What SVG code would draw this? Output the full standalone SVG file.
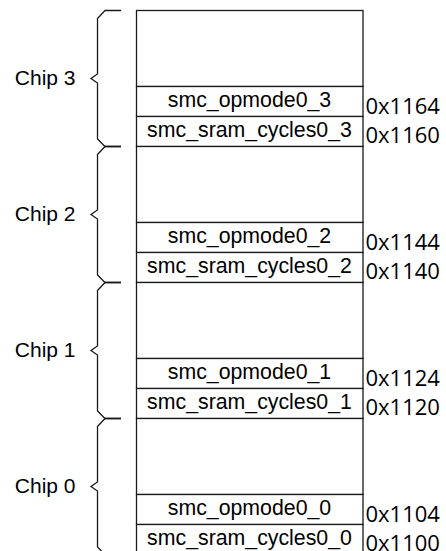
<svg xmlns="http://www.w3.org/2000/svg" width="446" height="551" viewBox="0 0 446 551">
<style>
.ln{fill:none;stroke:#1a1a1a;stroke-width:1.3}
.cell{fill:#fff;stroke:#1a1a1a;stroke-width:1.3}
.reg{font-family:"Liberation Sans",Arial,sans-serif;font-size:21.3px;fill:#000;text-anchor:middle}
.chip{font-family:"Liberation Sans",Arial,sans-serif;font-size:21px;fill:#000;text-anchor:end}
.hex{font-family:"Open Sans","Noto Sans",sans-serif;font-size:22px;fill:#000}
</style>
<rect width="446" height="551" fill="#fff"/>
<g id="braces">
<path class="ln" d="M121,10.5 H105 L97.5,18.5 V74 L91,78.5 L97.5,83 V139 L105,146.5 H121"/>
<path class="ln" d="M121,146.5 H105 L97.5,154.5 V210 L91,214.5 L97.5,219 V275 L105,282.5 H121"/>
<path class="ln" d="M121,282.5 H105 L97.5,290.5 V346 L91,350.5 L97.5,355 V411 L105,418.5 H121"/>
<path class="ln" d="M121,418.5 H105 L97.5,426.5 V482 L91,486.5 L97.5,491 V547 L105,554.5 H121"/>
</g>
<g id="chip3">
<text class="chip" x="75.5" y="85">Chip 3</text>
<rect class="cell" x="136.5" y="10.5" width="226.5" height="76"/>
<g id="smc_opmode0_3"><rect class="cell" x="136.5" y="86.5" width="226.5" height="30"/><text class="reg" x="249.5" y="107">smc_opmode0_3</text><text class="hex" x="365.5" y="114.3">0x1164</text></g>
<g id="smc_sram_cycles0_3"><rect class="cell" x="136.5" y="116.5" width="226.5" height="30"/><text class="reg" x="249.5" y="137">smc_sram_cycles0_3</text><text class="hex" x="365.5" y="143.3">0x1160</text></g>
</g>
<g id="chip2">
<text class="chip" x="75.5" y="221">Chip 2</text>
<rect class="cell" x="136.5" y="146.5" width="226.5" height="76"/>
<g id="smc_opmode0_2"><rect class="cell" x="136.5" y="222.5" width="226.5" height="30"/><text class="reg" x="249.5" y="243">smc_opmode0_2</text><text class="hex" x="365.5" y="250.3">0x1144</text></g>
<g id="smc_sram_cycles0_2"><rect class="cell" x="136.5" y="252.5" width="226.5" height="30"/><text class="reg" x="249.5" y="273">smc_sram_cycles0_2</text><text class="hex" x="365.5" y="279.3">0x1140</text></g>
</g>
<g id="chip1">
<text class="chip" x="75.5" y="357">Chip 1</text>
<rect class="cell" x="136.5" y="282.5" width="226.5" height="76"/>
<g id="smc_opmode0_1"><rect class="cell" x="136.5" y="358.5" width="226.5" height="30"/><text class="reg" x="249.5" y="379">smc_opmode0_1</text><text class="hex" x="365.5" y="386.3">0x1124</text></g>
<g id="smc_sram_cycles0_1"><rect class="cell" x="136.5" y="388.5" width="226.5" height="30"/><text class="reg" x="249.5" y="409">smc_sram_cycles0_1</text><text class="hex" x="365.5" y="415.3">0x1120</text></g>
</g>
<g id="chip0">
<text class="chip" x="75.5" y="493">Chip 0</text>
<rect class="cell" x="136.5" y="418.5" width="226.5" height="76"/>
<g id="smc_opmode0_0"><rect class="cell" x="136.5" y="494.5" width="226.5" height="30"/><text class="reg" x="249.5" y="515">smc_opmode0_0</text><text class="hex" x="365.5" y="522.3">0x1104</text></g>
<g id="smc_sram_cycles0_0"><rect class="cell" x="136.5" y="524.5" width="226.5" height="30"/><text class="reg" x="249.5" y="545">smc_sram_cycles0_0</text><text class="hex" x="365.5" y="551.3">0x1100</text></g>
</g>
<g id="connectors"/>
</svg>
